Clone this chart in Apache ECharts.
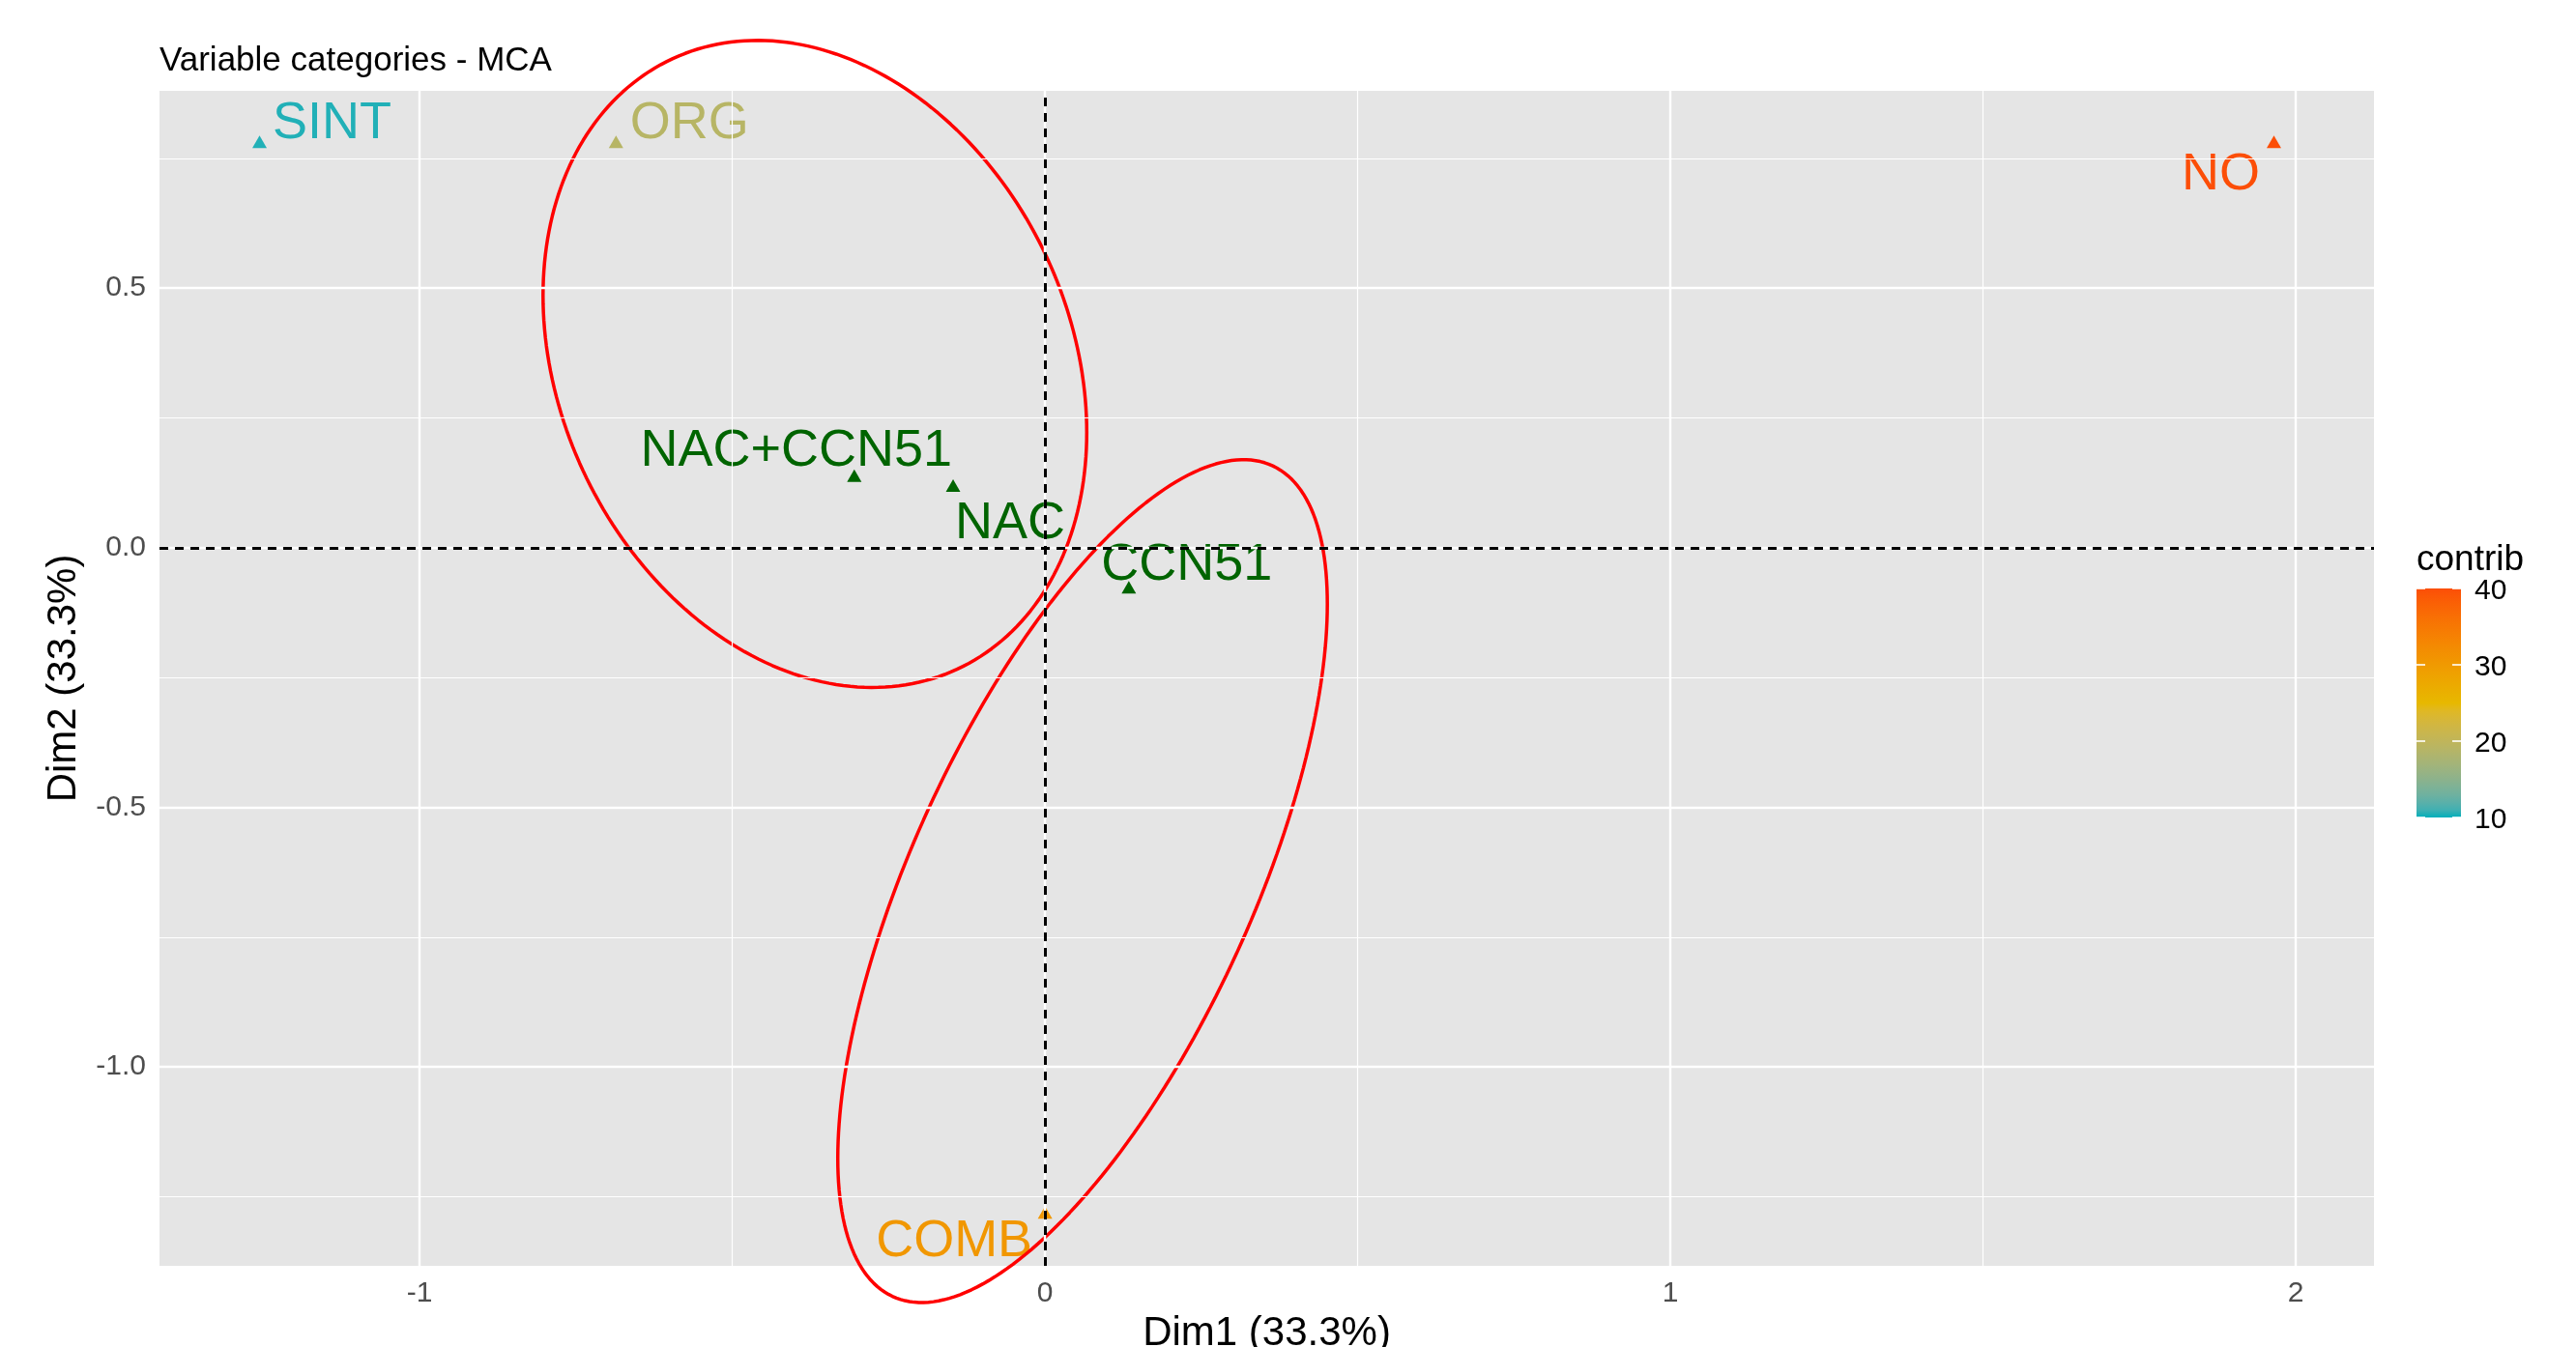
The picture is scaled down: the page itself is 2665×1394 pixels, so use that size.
<!DOCTYPE html>
<html><head><meta charset="utf-8">
<script src="https://cdn.jsdelivr.net/npm/echarts@6/dist/echarts.min.js"></script>
<style>html,body{margin:0;padding:0;background:#fff}#chart{width:2665px;height:1394px}</style>
</head><body><div id="chart"></div>
<script>
// ---------------- data ----------------
const activeCategories = ['SINT', 'ORG', 'NO', 'COMB'];
const activeDim1 = [-1.256, -0.686, 1.965, 0.000];
const activeDim2 = [0.782, 0.782, 0.782, -1.280];
const activeContrib = [10.5, 19.0, 40.0, 30.5];
const supCategories = ['NAC+CCN51', 'NAC', 'CCN51'];
const supDim1 = [-0.305, -0.147, 0.134];
const supDim2 = [0.139, 0.120, -0.076];
const xTickValues = [-1, 0, 1, 2];
const yTickValues = [-1.0, -0.5, 0.0, 0.5];
const xMinorValues = [-0.5, 0.5, 1.5];
const yMinorValues = [-1.25, -0.75, -0.25, 0.25, 0.75];
const contribTicks = [10, 20, 30, 40];
const xRange = [-1.416, 2.125];
const yRange = [-1.383, 0.880];
// ellipses: centre and two conjugate semi-axis vectors (data units)
const ellipseCenters = [[-0.368, 0.354], [0.060, -0.642]];
const ellipseAxisU = [[0.4347, -0.1318], [0.3914, 0.5339]];
const ellipseAxisV = [[0.0, 0.609], [0.0, 0.6114]];

// ---------------- styles ----------------
const FONT = 'Liberation Sans, Arial, Helvetica, sans-serif';
const labelOffsets = {
  'SINT': [75, -19], 'ORG': [76, -19], 'NO': [-55, 34], 'COMB': [-94, 30],
  'NAC+CCN51': [-60, -25], 'NAC': [59, 40], 'CCN51': [60, -23]
};
const gradientAnchors = ['#00AFBB', '#E7B800', '#FC4E07'];

// Lab interpolation (like ggplot's gradientn)
function hexToRgb(h){h=h.replace('#','');return [0,2,4].map(i=>parseInt(h.substr(i,2),16));}
function s2l(c){c/=255;return c<=0.04045?c/12.92:Math.pow((c+0.055)/1.055,2.4);}
function l2s(c){c=c<=0.0031308?12.92*c:1.055*Math.pow(c,1/2.4)-0.055;return Math.max(0,Math.min(255,Math.round(c*255)));}
function rgbToLab(rgb){const [r,g,b]=rgb.map(s2l);
  const X=(0.4124564*r+0.3575761*g+0.1804375*b)/0.95047, Y=(0.2126729*r+0.7151522*g+0.0721750*b), Z=(0.0193339*r+0.1191920*g+0.9503041*b)/1.08883;
  const f=t=>t>0.008856?Math.cbrt(t):(7.787*t+16/116);
  const fx=f(X),fy=f(Y),fz=f(Z);return [116*fy-16,500*(fx-fy),200*(fy-fz)];}
function labToHex(lab){const [L,a,b]=lab;const fy=(L+16)/116,fx=fy+a/500,fz=fy-b/200;
  const fi=t=>{const t3=t*t*t;return t3>0.008856?t3:(t-16/116)/7.787;};
  const X=fi(fx)*0.95047,Y=fi(fy),Z=fi(fz)*1.08883;
  const r=3.2404542*X-1.5371385*Y-0.4985314*Z,g=-0.9692660*X+1.8760108*Y+0.0415560*Z,bb=0.0556434*X-0.2040259*Y+1.0572252*Z;
  return '#'+[r,g,bb].map(l2s).map(v=>v.toString(16).padStart(2,'0')).join('');}
const anchorLabs = gradientAnchors.map(h=>rgbToLab(hexToRgb(h)));
function ramp(t){const n=anchorLabs.length-1;const p=Math.min(n-1e-9,Math.max(0,t*n));const i=Math.floor(p),f=p-i;
  const a=anchorLabs[i],b=anchorLabs[i+1];return labToHex([0,1,2].map(k=>a[k]+(b[k]-a[k])*f));}
const NSTOP = 31;
const rampColors = Array.from({length:NSTOP},(_,i)=>ramp(i/(NSTOP-1)));
const cMin = contribTicks[0], cMax = contribTicks[contribTicks.length-1];

// ---------------- build ----------------
const activeData = activeCategories.map((n,i)=>({
  name:n, value:[activeDim1[i], activeDim2[i], activeContrib[i]],
  label:{offset:labelOffsets[n]}
}));
const supData = supCategories.map((n,i)=>({
  name:n, value:[supDim1[i], supDim2[i]],
  label:{offset:labelOffsets[n]}
}));
function ellipsePoints(k){
  const c=ellipseCenters[k],u=ellipseAxisU[k],v=ellipseAxisV[k],pts=[];
  for(let i=0;i<=240;i++){const t=2*Math.PI*i/240;
    pts.push([c[0]+u[0]*Math.cos(t)+v[0]*Math.sin(t), c[1]+u[1]*Math.cos(t)+v[1]*Math.sin(t)]);}
  return pts;
}
const gridLines = [];
xTickValues.forEach(v=>gridLines.push({xAxis:v,lineStyle:{color:'#fff',width:2.4,type:'solid'}}));
yTickValues.forEach(v=>gridLines.push({yAxis:v,lineStyle:{color:'#fff',width:2.4,type:'solid'}}));
xMinorValues.forEach(v=>gridLines.push({xAxis:v,lineStyle:{color:'#fff',width:1.2,type:'solid'}}));
yMinorValues.forEach(v=>gridLines.push({yAxis:v,lineStyle:{color:'#fff',width:1.2,type:'solid'}}));

const GRID = {left:165, top:94, right:209, bottom:84};
const bar = {x:2500, y:609, w:46, h:237};
const valToBarY = v => bar.y + bar.h * (cMax - v) / (cMax - cMin);
const graphics = [
  {type:'text', left:2500, top:561, style:{text:'contrib', font:'37px '+FONT, fill:'#000'}},
  {type:'rect', shape:{x:bar.x,y:bar.y,width:bar.w,height:bar.h},
   style:{fill:new echarts.graphic.LinearGradient(0,0,0,1, rampColors.map((c,i)=>({offset:1-i/(NSTOP-1), color:c})).reverse())}}
];
contribTicks.forEach(v=>{
  const y=valToBarY(v);
  graphics.push({type:'line',shape:{x1:bar.x,y1:y,x2:bar.x+9,y2:y},style:{stroke:'#fff',lineWidth:1.6}});
  graphics.push({type:'line',shape:{x1:bar.x+bar.w-9,y1:y,x2:bar.x+bar.w,y2:y},style:{stroke:'#fff',lineWidth:1.6}});
  graphics.push({type:'text',x:2560,y:y+3,style:{text:String(v),font:'30px '+FONT,fill:'#000',textVerticalAlign:'middle',verticalAlign:'middle'}});
});

const chart = echarts.init(document.getElementById('chart'), null, {renderer:'canvas'});
chart.setOption({
  animation:false,
  backgroundColor:'#fff',
  textStyle:{fontFamily:FONT},
  title:{text:'Variable categories - MCA', left:165, top:46, padding:0,
    textStyle:{fontFamily:FONT, fontSize:35, fontWeight:'normal', color:'#000'}},
  grid:{left:GRID.left, top:GRID.top, right:GRID.right, bottom:GRID.bottom, show:true,
    backgroundColor:'#E5E5E5', borderWidth:0, containLabel:false, outerBoundsMode:'none'},
  xAxis:{type:'value', min:xRange[0], max:xRange[1],
    name:'Dim1 (33.3%)', nameLocation:'middle', nameGap:49,
    nameTextStyle:{fontFamily:FONT, fontSize:42, color:'#000'},
    axisLine:{show:false},
    axisTick:{show:true, length:8, customValues:xTickValues, lineStyle:{color:'#333', width:2}},
    axisLabel:{customValues:xTickValues, fontFamily:FONT, fontSize:30, color:'#4D4D4D', margin:14, formatter:v=>String(v)},
    splitLine:{show:false}, minorSplitLine:{show:false}},
  yAxis:{type:'value', min:yRange[0], max:yRange[1],
    name:'Dim2 (33.3%)', nameLocation:'middle', nameGap:78,
    nameTextStyle:{fontFamily:FONT, fontSize:42, color:'#000'},
    axisLine:{show:false},
    axisTick:{show:true, length:8, customValues:yTickValues, lineStyle:{color:'#333', width:2}},
    axisLabel:{customValues:yTickValues, fontFamily:FONT, fontSize:30, color:'#4D4D4D', margin:14, formatter:v=>v.toFixed(1)},
    splitLine:{show:false}, minorSplitLine:{show:false}},
  visualMap:{type:'continuous', show:false, min:cMin, max:cMax, dimension:2, seriesIndex:2,
    inRange:{color:rampColors}},
  series:[
    {type:'line', data:[], silent:true, z:1,
     markLine:{silent:true, symbol:['none','none'], label:{show:false}, animation:false, data:gridLines}},
    {type:'line', data:[], silent:true, z:2,
     markLine:{silent:true, symbol:['none','none'], label:{show:false}, animation:false,
       lineStyle:{color:'#000', width:3, type:[9,7]},
       data:[{xAxis:0},{yAxis:0}]}},
    {type:'scatter', name:'active', data:activeData, symbol:'triangle', symbolSize:[15,13], z:3,
     itemStyle:{opacity:1},
     label:{show:true, position:'inside', formatter:p=>p.name, fontFamily:FONT, fontSize:54,
       color:'inherit', textBorderWidth:0, align:'center', verticalAlign:'middle'}},
    {type:'scatter', name:'sup', data:supData, symbol:'triangle', symbolSize:[15,13], z:3,
     itemStyle:{color:'#006400', opacity:1},
     label:{show:true, position:'inside', formatter:p=>p.name, fontFamily:FONT, fontSize:54,
       color:'#006400', textBorderWidth:0, align:'center', verticalAlign:'middle'}},
    {type:'line', data:ellipsePoints(0), showSymbol:false, symbol:'none', silent:true, z:4, clip:false,
     lineStyle:{color:'#FF0000', width:3.5}},
    {type:'line', data:ellipsePoints(1), showSymbol:false, symbol:'none', silent:true, z:4, clip:false,
     lineStyle:{color:'#FF0000', width:3.5}}
  ],
  graphic:graphics
});
</script></body></html>
